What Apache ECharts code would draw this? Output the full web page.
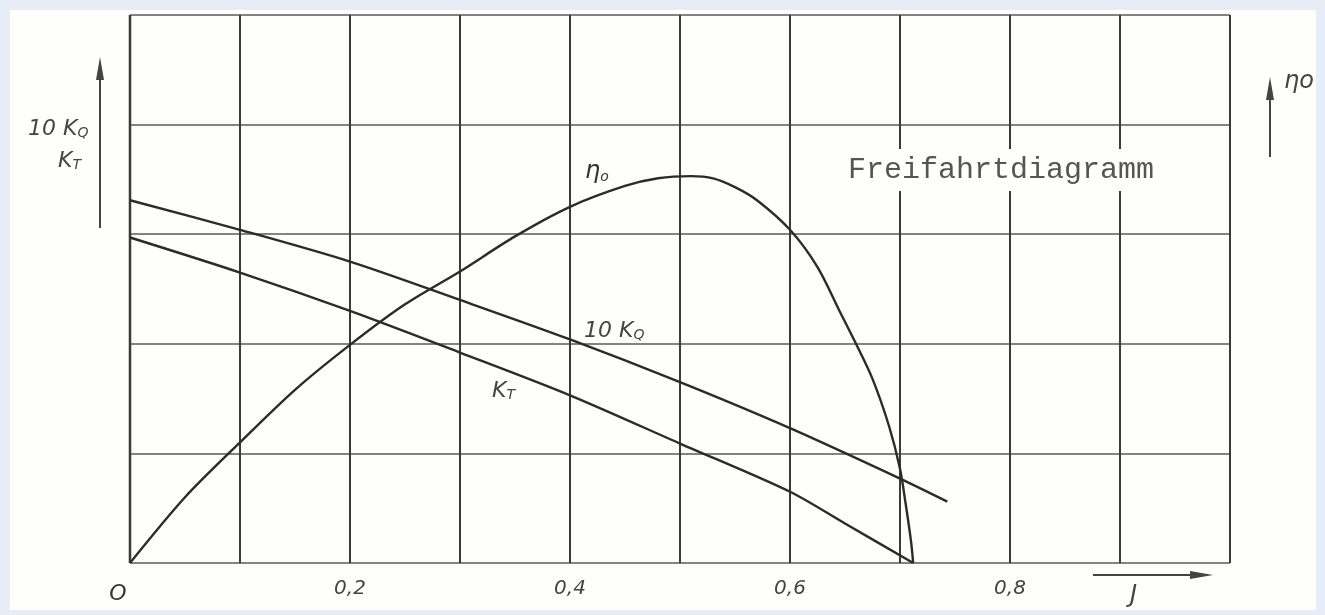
<!DOCTYPE html>
<html>
<head>
<meta charset="utf-8">
<script src="https://cdn.jsdelivr.net/npm/echarts@6/dist/echarts.min.js"></script>
<style>
  html, body { margin: 0; padding: 0; background: #e6edf6; }
  #paper { position: absolute; left: 10px; top: 10px; width: 1306px; height: 600px; background: #fefefd; }
  #chart { position: absolute; left: 0; top: 0; width: 1325px; height: 615px; }
</style>
</head>
<body>
<div id="paper"></div>
<div id="chart"></div>
<script>
// J (advance ratio) ticks, labelled every 0.2
const jTicks = ['0', '0,2', '0,4', '0,6', '0,8'];

// K_T
const jKT = [0, 0.1, 0.2, 0.3, 0.4, 0.5, 0.6, 0.65, 0.712];
const kT  = [2.97, 2.65, 2.3, 1.92, 1.53, 1.09, 0.65, 0.36, 0];

// 10 K_Q
const jKQ  = [0, 0.1, 0.2, 0.3, 0.4, 0.5, 0.6, 0.7, 0.743];
const kQ10 = [3.31, 3.04, 2.75, 2.4, 2.04, 1.65, 1.23, 0.77, 0.56];

// eta_0
const jEta = [0, 0.05, 0.1, 0.15, 0.2, 0.25, 0.3, 0.35, 0.4, 0.45, 0.48, 0.51, 0.53, 0.55, 0.57, 0.6, 0.625, 0.645, 0.66, 0.675, 0.69, 0.7, 0.705, 0.71, 0.712];
const eta  = [0, 0.6, 1.1, 1.58, 1.99, 2.36, 2.66, 2.98, 3.25, 3.44, 3.51, 3.53, 3.51, 3.43, 3.31, 3.04, 2.7, 2.3, 2.0, 1.68, 1.25, 0.86, 0.55, 0.2, 0];

const pairs = (xs, ys) => xs.map((x, i) => [x, ys[i]]);

const ink = '#2b2b2b';
const hand = 'italic 22px "DejaVu Sans"';
const sub = 'italic 14px "DejaVu Sans"';

const chart = echarts.init(document.getElementById('chart'));

const curve = (name, xs, ys) => ({
  name, type: 'line', data: pairs(xs, ys),
  smooth: 0.3, showSymbol: false, silent: true,
  lineStyle: { color: ink, width: 2.4 }
});

const label = (left, top, main, s, font, color) => ({
  type: 'text', left, top,
  style: {
    text: '{a|' + main + '}{s|' + s + '}',
    rich: {
      a: { font: font || hand, fill: color || '#444', verticalAlign: 'bottom' },
      s: { font: sub, fill: color || '#444', verticalAlign: 'bottom' }
    }
  }
});

chart.setOption({
  animation: false,
  grid: { left: 130, right: 95, top: 15, bottom: 52 },
  xAxis: {
    type: 'value', min: 0, max: 1, interval: 0.1,
    axisLine: { show: false }, axisTick: { show: false },
    splitLine: { lineStyle: { color: '#3a3a3a', width: 2 } },
    axisLabel: {
      margin: 16, color: '#444', fontFamily: 'DejaVu Sans', fontStyle: 'italic', fontSize: 20,
      formatter: v => {
        const k = Math.round(v * 10);
        if (k === 0) return '{o|O}';
        return k % 2 === 0 && k / 2 < jTicks.length ? jTicks[k / 2] : '';
      },
      rich: { o: { fontSize: 22, fontStyle: 'italic', color: '#333', padding: [4, 24, 0, 0] } }
    }
  },
  yAxis: {
    type: 'value', min: 0, max: 5, interval: 1,
    axisLine: { show: false }, axisTick: { show: false }, axisLabel: { show: false },
    splitLine: { lineStyle: { color: '#5a5a5a', width: 1.5 } }
  },
  series: [curve('K_T', jKT, kT), curve('10 K_Q', jKQ, kQ10), curve('eta_0', jEta, eta)],
  graphic: [
    // thicker left border line
    { type: 'line', shape: { x1: 130, y1: 15, x2: 130, y2: 563 }, style: { stroke: '#333', lineWidth: 2.5 } },
    // title, blanking the verticals behind it
    { type: 'text', left: 842, top: 149, z: 10,
      style: { text: 'Freifahrtdiagramm', font: '30px "Liberation Mono"', fill: '#555',
        backgroundColor: '#fefefd', padding: [6, 6, 6, 6] } },
    // left axis caption
    label(28, 118, '10 K', 'Q'),
    label(58, 150, 'K', 'T'),
    { type: 'line', shape: { x1: 100, y1: 228, x2: 100, y2: 72 }, style: { stroke: '#444', lineWidth: 2 } },
    { type: 'polygon', shape: { points: [[100, 57], [96, 80], [104, 80]] }, style: { fill: '#444' } },
    // right axis caption
    { type: 'line', shape: { x1: 1270, y1: 157, x2: 1270, y2: 92 }, style: { stroke: '#444', lineWidth: 2 } },
    { type: 'polygon', shape: { points: [[1270, 77], [1266, 100], [1274, 100]] }, style: { fill: '#444' } },
    { type: 'text', left: 1284, top: 70, style: { text: 'ηo', font: 'italic 24px "DejaVu Sans"', fill: '#444' } },
    // J arrow
    { type: 'line', shape: { x1: 1093, y1: 575, x2: 1200, y2: 575 }, style: { stroke: '#444', lineWidth: 1.8 } },
    { type: 'polygon', shape: { points: [[1213, 575], [1190, 571], [1190, 579]] }, style: { fill: '#444' } },
    { type: 'text', left: 1130, top: 584, style: { text: 'J', font: 'italic 24px "DejaVu Sans"', fill: '#444' } },
    // curve labels
    label(585, 160, 'η', 'o', 'italic 24px "DejaVu Sans"', '#333'),
    label(584, 320, '10 K', 'Q'),
    label(492, 380, 'K', 'T')
  ]
});
</script>
</body>
</html>
